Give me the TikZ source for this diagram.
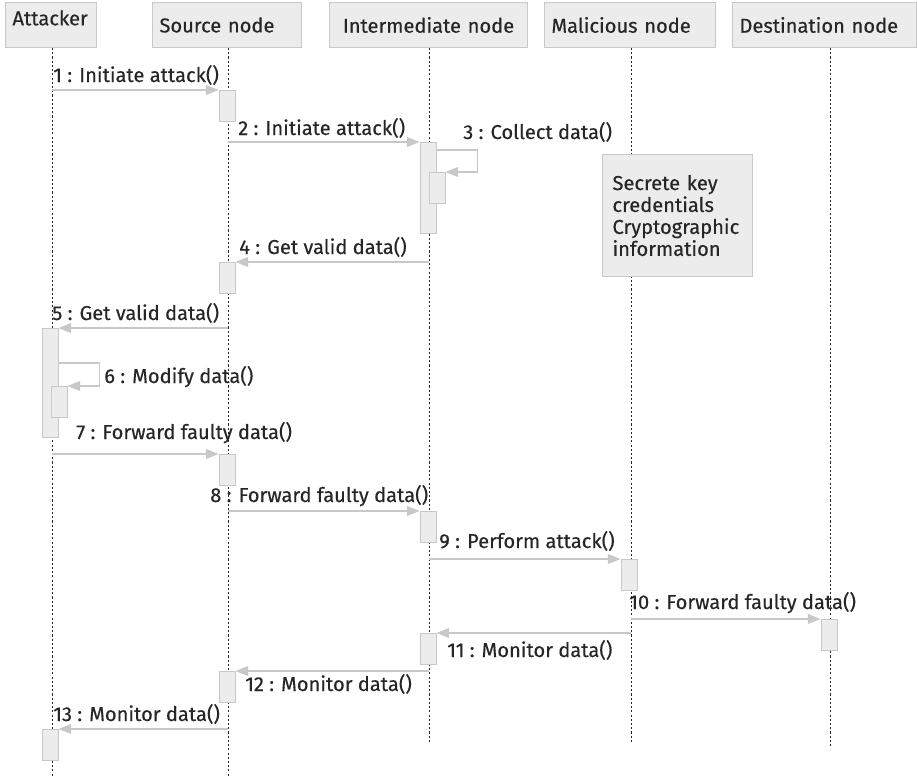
\documentclass[tikz,border=0pt]{standalone}
\usepackage{fontspec}
\setmainfont{Fira Sans}[FakeBold=0.35]
\usetikzlibrary{arrows.meta}
\definecolor{figGris}{RGB}{236,236,236}
\definecolor{figGrisBorde}{RGB}{200,200,200}
\definecolor{figTexto}{RGB}{38,38,38}
\newcommand{\letra}{\fontsize{14.3pt}{15.6pt}\selectfont}
\tikzset{
  cabecera/.style={
    rectangle, draw=figGrisBorde, line width=0.7pt, fill=figGris,
    anchor=north west, minimum height=1.125cm, inner xsep=0.175cm,
    align=left, font=\letra, text=figTexto
  },
  activo/.style={
    rectangle, draw=figGrisBorde, line width=0.7pt, fill=figGris,
    anchor=north, minimum width=0.4cm, minimum height=0.775cm, inner sep=0pt
  },
  nota/.style={
    rectangle, draw=figGrisBorde, line width=0.7pt, fill=figGris,
    anchor=north west, minimum width=3.75cm, minimum height=3.05cm,
    text width=3.25cm, inner xsep=0.25cm, align=left, font=\letra, text=figTexto
  },
  vida/.style={line width=0.6pt, dash pattern=on 1.5pt off 1.5pt, draw=black!85},
  flecha/.style={-{Triangle[length=9pt,width=7pt]}, line width=0.9pt, draw=figGrisBorde},
  etiqueta/.style={anchor=base west, inner sep=0pt, font=\letra, text=figTexto}
}

\begin{document}
\begin{tikzpicture}[x=0.025cm, y=-0.025cm]
  \useasboundingbox (0,0) rectangle (917,778);
  % cabeceras
  \node[cabecera, minimum width=2.275cm, text width=1.925cm] (att) at (5,2) {\raisebox{0.15cm}[9pt][0pt]{Attacker}};
  \node[cabecera, minimum width=3.725cm, text width=3.375cm] (src) at (152,2) {Source node};
  \node[cabecera, minimum width=4.95cm, text width=4.6cm, align=center] (mid) at (329,2) {Intermediate node};
  \node[cabecera, minimum width=4.275cm, text width=3.925cm] (mal) at (544,2) {Malicious node};
  \node[cabecera, minimum width=4.6cm, text width=4.25cm] (dst) at (732,2) {Destination node};
  % lineas de vida
  \coordinate (lAtt) at (52,776);
  \coordinate (lSrc) at (228,776);
  \coordinate (lMid) at (429,743);
  \coordinate (lMal) at (631,743);
  \coordinate (lDst) at (830,748);
  \draw[vida] (att.south -| lAtt) -- (lAtt);
  \draw[vida] (src.south -| lSrc) -- (lSrc);
  \draw[vida] (mid.south -| lMid) -- (lMid);
  \draw[vida] (mal.south -| lMal) -- (lMal);
  \draw[vida] (dst.south -| lDst) -- (lDst);
  % nota
  \node[nota] (info) at (602,154) {Secrete key\\credentials\\Cryptographic\\information};
  % activaciones
  \node[activo] (a1) at (227,90) {};
  \node[activo, minimum height=2.275cm] (a2) at (428,142) {};
  \node[activo] (a3) at (437,172) {};
  \node[activo] (a4) at (227,262) {};
  \node[activo, minimum height=2.725cm] (a5) at (50,328) {};
  \node[activo] (a6) at (59,386) {};
  \node[activo] (a7) at (227,454) {};
  \node[activo] (a8) at (428,511) {};
  \node[activo] (a9) at (629,559) {};
  \node[activo] (a10) at (829,619) {};
  \node[activo] (a11) at (428,633) {};
  \node[activo] (a12) at (227,671) {};
  \node[activo] (a13) at (50,729) {};
  % mensajes
  \draw[flecha] (lAtt |- a1.north) -- (a1.north west);
  \draw[flecha] (lSrc |- a2.north) -- (a2.north west);
  \draw[flecha] ([yshift=-0.2cm]a2.north east) -- ++(41,0) |- (a3.north east);
  \draw[flecha] (lMid |- a4.north) -- (a4.north east);
  \draw[flecha] (lSrc |- a5.north) -- (a5.north east);
  \draw[flecha] ([yshift=-0.875cm]a5.north east) -- ++(41,0) |- (a6.north east);
  \draw[flecha] (lAtt |- a7.north) -- (a7.north west);
  \draw[flecha] (lSrc |- a8.north) -- (a8.north west);
  \draw[flecha] (lMid |- a9.north) -- (a9.north west);
  \draw[flecha] (lMal |- a10.north) -- (a10.north west);
  \draw[flecha] (lMal |- a11.north) -- (a11.north east);
  \draw[flecha] (lMid |- a12.north) -- (a12.north east);
  \draw[flecha] (lSrc |- a13.north) -- (a13.north east);
  % etiquetas
  \node[etiqueta] (m1) at (53,82) {1 : Initiate attack()};
  \node[etiqueta] (m2) at (238,135) {2 : Initiate attack()};
  \node[etiqueta] (m3) at (463,139) {3 : Collect data()};
  \node[etiqueta] (m4) at (239,254) {4 : Get valid data()};
  \node[etiqueta] (m5) at (52,320) {5 : Get valid data()};
  \node[etiqueta] (m6) at (104,383) {6 : Modify data()};
  \node[etiqueta] (m7) at (76,439) {7 : Forward faulty data()};
  \node[etiqueta] (m8) at (210,502) {8 : Forward faulty data()};
  \node[etiqueta] (m9) at (439,548) {9 : Perform attack()};
  \node[etiqueta] (m10) at (629,609) {10 : Forward faulty data()};
  \node[etiqueta] (m11) at (447,657) {11 : Monitor data()};
  \node[etiqueta] (m12) at (245,691) {12 : Monitor data()};
  \node[etiqueta] (m13) at (53,721) {13 : Monitor data()};
\end{tikzpicture}
\end{document}
